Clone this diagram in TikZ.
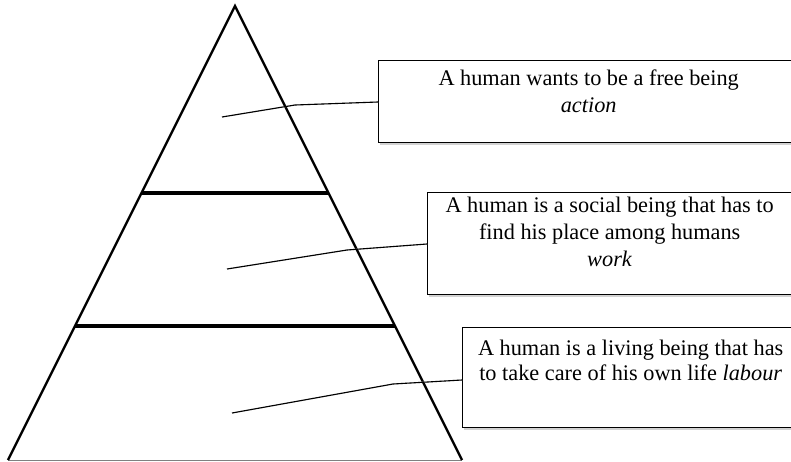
\documentclass[tikz,border=0pt]{standalone}
\usepackage{fontspec}
\setmainfont{Liberation Serif}
\usetikzlibrary{calc,shadows}
\begin{document}
\begin{tikzpicture}[x=1pt,y=-1pt,
  tri/.style={line width=2.4pt, line join=miter},
  levelline/.style={line width=3.6pt},
  conn/.style={line width=1.1pt},
  shade/.style={gray!35, shift={(0.5,2.2)}},
  box/.style={draw, line width=1.4pt, fill=white, inner sep=0pt,
    drop shadow={shadow xshift=1.5pt, shadow yshift=-2.2pt, fill=gray!35, opacity=1},
    font=\fontsize{22.3}{27}\selectfont}]
\useasboundingbox (0,0) rectangle (791,461);
\clip (0,0) rectangle (791,461);

% triangle
\coordinate (apex) at (235,6);
\coordinate (bl) at (8,460);
\coordinate (br) at (462,460);
\draw[gray, line width=1pt] (bl) -- (br);
\draw[tri] (bl) -- (apex) -- (br);

% level lines
\draw[levelline, gray!35, shift={(0,2.5)}] ($(apex)!0.4119!(bl)$) -- ($(apex)!0.4119!(br)$);
\draw[levelline] ($(apex)!0.4119!(bl)$) -- ($(apex)!0.4119!(br)$);
\draw[levelline, gray!35, shift={(0,2.5)}] ($(apex)!0.7048!(bl)$) -- ($(apex)!0.7048!(br)$);
\draw[levelline] ($(apex)!0.7048!(bl)$) -- ($(apex)!0.7048!(br)$);

% boxes
\node[box, anchor=north west] (b1) at (378,60)
  {\parbox[c][82pt][t]{420pt}{\centering\rule{0pt}{25pt}A human wants to be a free being\\ \textit{action}}};
\node[box, anchor=north west] (b2) at (427,192)
  {\parbox[c][102pt][t]{364pt}{\centering\rule{0pt}{20pt}A human is a social being that has to\\ find his place among humans\\ \textit{work}}};
\node[box, anchor=north west] (b3) at (462,327)
  {\parbox[c][100pt][t]{336pt}{\centering\fontsize{22.3}{25}\selectfont\rule{0pt}{28pt}A human is a living being that has\\ to take care of his own life \textit{labour}}};

% connectors
\coordinate (s1) at (222,117);
\coordinate (k1) at (295,105);
\coordinate (s2) at (227,269);
\coordinate (k2) at (347,250);
\coordinate (s3) at (232,413);
\coordinate (k3) at (393,384);

\draw[conn, shade] (s1) -- (k1) -- ($(b1.north west)+(0,42)$);
\draw[conn] (s1) -- (k1) -- ($(b1.north west)+(0,42)$);
\draw[conn, shade] (s2) -- (k2) -- ($(b2.north west)+(0,52)$);
\draw[conn] (s2) -- (k2) -- ($(b2.north west)+(0,52)$);
\draw[conn, shade] (s3) -- (k3) -- ($(b3.north west)+(0,53)$);
\draw[conn] (s3) -- (k3) -- ($(b3.north west)+(0,53)$);
\end{tikzpicture}
\end{document}
